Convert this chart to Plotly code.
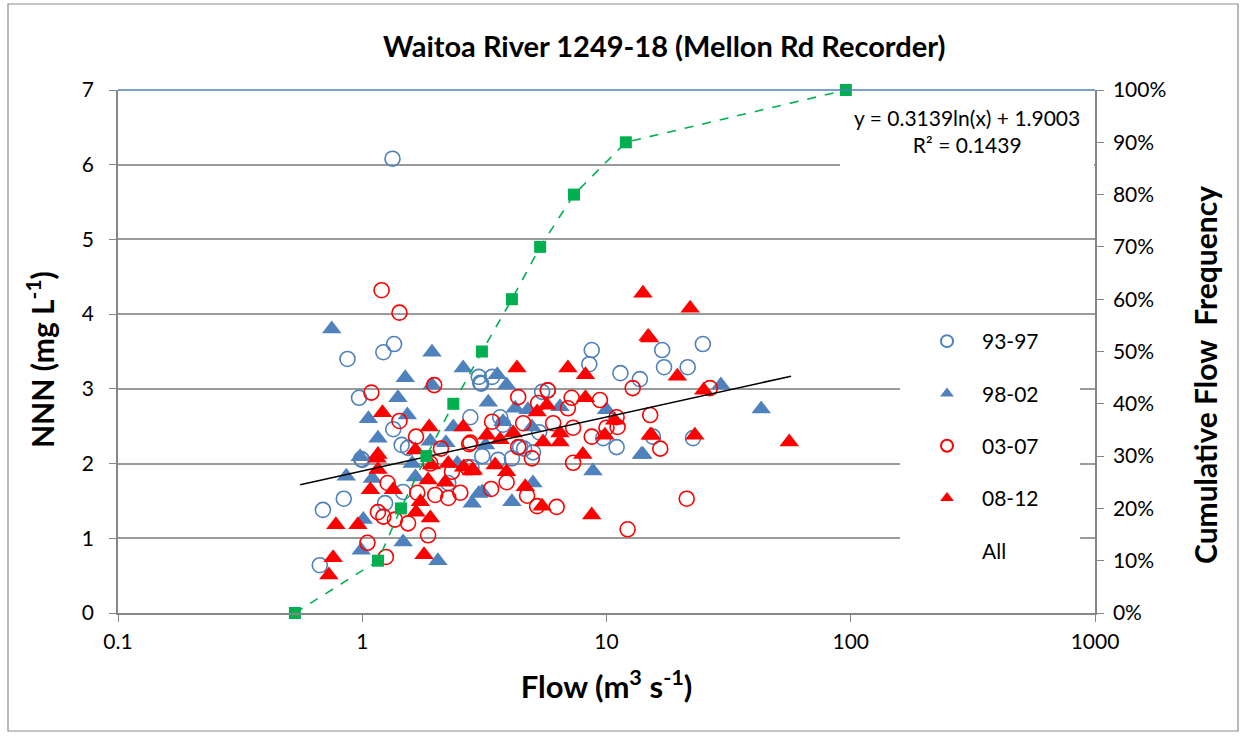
import numpy as np
import plotly.graph_objects as go

# ---------------- data ----------------
flow_9397 = [1.33, 0.67, 0.69, 0.84, 0.87, 0.97, 0.99, 1.22, 1.35, 1.34, 1.54, 1.47, 1.24, 2.25,
             2.77, 3.0, 3.04, 3.4, 3.07, 5.45, 5.75, 3.67, 3.77, 5.3, 4.43, 4.1, 11.0, 9.7, 8.7,
             8.5, 11.4, 13.7, 16.9, 24.8, 17.2, 21.5, 15.5, 22.6, 1.0, 1.45, 2.8, 3.1, 3.6, 4.6, 5.0]
nnn_9397 = [6.08, 0.64, 1.38, 1.53, 3.40, 2.88, 2.06, 3.49, 3.60, 2.46, 2.21, 1.62, 1.47, 1.74,
            2.62, 3.16, 3.08, 3.16, 3.07, 2.96, 2.98, 2.62, 2.52, 2.42, 2.22, 2.07, 2.22, 2.34, 3.52,
            3.33, 3.21, 3.13, 3.52, 3.60, 3.29, 3.29, 2.36, 2.34, 2.05, 2.25, 1.95, 2.10, 2.05, 2.20, 2.15]

flow_9802 = [0.75, 1.93, 1.50, 2.59, 1.40, 1.93, 1.53, 1.06, 1.16, 2.2, 2.36, 0.98, 0.86, 1.01,
             0.99, 1.47, 2.04, 1.65, 2.82, 3.57, 3.9, 3.28, 4.23, 4.77, 6.45, 10.0, 3.77, 4.95,
             13.9, 8.8, 4.1, 5.0, 3.1, 29.4, 43.0, 14.1, 1.1, 2.45, 3.2, 1.6, 1.9, 3.0]
nnn_9802 = [3.80, 3.49, 3.15, 3.28, 2.88, 3.05, 2.65, 2.60, 2.34, 2.28, 2.49, 2.09, 1.83, 1.25,
            0.84, 0.95, 0.70, 1.82, 1.47, 3.19, 3.05, 2.82, 2.74, 2.72, 2.76, 2.72, 2.56, 2.49,
            2.12, 1.90, 1.49, 1.74, 1.62, 3.05, 2.73, 2.12, 1.80, 2.00, 2.25, 2.00, 2.30, 1.60]

flow_0307 = [1.2, 1.42, 1.09, 1.97, 1.42, 1.66, 2.74, 1.27, 1.16, 1.22, 1.36, 1.54, 1.05, 1.25,
             1.86, 1.68, 1.99, 2.25, 2.52, 2.33, 2.69, 4.35, 5.75, 7.2, 9.4, 12.8, 6.95, 3.4,
             4.56, 5.25, 6.05, 7.3, 8.7, 10.0, 11.1, 11.0, 15.1, 2.77, 4.35, 4.95, 7.3, 3.9,
             3.37, 4.73, 5.2, 6.25, 12.2, 26.5, 16.6, 21.3, 1.9, 2.1]
nnn_0307 = [4.32, 4.02, 2.95, 3.05, 2.57, 2.36, 2.26, 1.74, 1.35, 1.29, 1.25, 1.20, 0.94, 0.75,
            1.04, 1.61, 1.58, 1.54, 1.61, 1.89, 1.95, 2.89, 2.98, 2.88, 2.85, 3.01, 2.74, 2.56,
            2.54, 2.81, 2.54, 2.48, 2.36, 2.48, 2.49, 2.62, 2.65, 2.28, 2.22, 2.07, 2.01, 1.75,
            1.66, 1.57, 1.43, 1.42, 1.12, 3.01, 2.20, 1.53, 2.00, 2.20]

flow_0812 = [1.21, 1.88, 2.59, 1.65, 1.16, 1.15, 1.16, 1.08, 0.78, 0.96, 0.76, 0.73, 1.34, 1.73,
             1.66, 1.9, 1.79, 1.86, 2.19, 2.25, 2.6, 2.8, 4.3, 6.95, 8.2, 8.2, 5.7, 5.2, 3.24,
             3.67, 4.15, 5.5, 6.45, 6.45, 9.85, 10.8, 15.1, 14.8, 8.0, 2.85, 3.5, 3.9, 4.65,
             5.45, 8.7, 14.1, 22.0, 15.0, 19.5, 25.0, 15.3, 23.0, 56.0, 1.92]
nnn_0812 = [2.68, 2.49, 2.49, 2.18, 2.12, 2.07, 1.92, 1.65, 1.18, 1.18, 0.74, 0.51, 1.65, 1.49,
            1.35, 1.27, 0.78, 1.78, 1.75, 2.00, 1.95, 1.90, 3.28, 3.28, 3.19, 2.88, 2.78, 2.69, 2.38,
            2.32, 2.41, 2.29, 2.41, 2.29, 2.38, 2.58, 2.38, 3.70, 2.12, 1.91, 1.98, 1.89, 1.69,
            1.43, 1.31, 4.28, 4.08, 3.68, 3.17, 2.98, 2.38, 2.38, 2.29, 1.98]

cum_flow = [0.53, 1.16, 1.44, 1.83, 2.36, 3.09, 4.1, 5.35, 7.36, 12.0, 95.5]
cum_freq = [0.0, 0.1, 0.2, 0.3, 0.4, 0.5, 0.6, 0.7, 0.8, 0.9, 1.0]

trend_a, trend_b = 0.3139, 1.9003
trend_xmin, trend_xmax = 0.557, 57.0
x_ticks = [0.1, 1, 10, 100, 1000]
x_ticktext = ["0.1", "1", "10", "100", "1000"]

# ---------------- layout helpers ----------------
W, H = 1249, 736
L, R, T, B = 118, 1095, 90, 613
def px(xp): return (xp - L) / (R - L)
def py(yp): return (B - yp) / (B - T)

FONT = "Lato, 'Open Sans', sans-serif"
BLUE, RED, GREEN = "#4f81bd", "#ff0000", "#00b050"

fig = go.Figure()

fig.add_trace(go.Scatter(x=flow_9397, y=nnn_9397, mode="markers", name="93-97", legendgroup="a",
                         marker=dict(symbol="circle-open", size=15, color=BLUE, line=dict(width=1.6))))
fig.add_trace(go.Scatter(x=flow_9802, y=nnn_9802, mode="markers", name="98-02", legendgroup="b",
                         marker=dict(symbol="triangle-up", size=17, color=BLUE)))
fig.add_trace(go.Scatter(x=flow_0307, y=nnn_0307, mode="markers", name="03-07", legendgroup="c",
                         marker=dict(symbol="circle-open", size=15, color=RED, line=dict(width=1.6))))
fig.add_trace(go.Scatter(x=flow_0812, y=nnn_0812, mode="markers", name="08-12", legendgroup="d",
                         marker=dict(symbol="triangle-up", size=17, color=RED)))
fig.add_trace(go.Scatter(x=[0.001], y=[-1], mode="markers", name="All", legendgroup="e",
                         marker=dict(size=1, color="rgba(0,0,0,0)", line=dict(width=0))))

xt = np.geomspace(trend_xmin, trend_xmax, 60)
fig.add_trace(go.Scatter(x=xt, y=trend_a * np.log(xt) + trend_b, mode="lines", showlegend=False,
                         line=dict(color="black", width=1.5)))

fig.add_trace(go.Scatter(x=cum_flow, y=cum_freq, yaxis="y2", mode="lines+markers", showlegend=False,
                         cliponaxis=False,
                         line=dict(color=GREEN, width=1.6, dash="dash"),
                         marker=dict(symbol="square", size=12, color=GREEN)))

axis_col = "#868686"
fig.update_layout(
    width=W, height=H,
    margin=dict(l=L, r=W - R, t=T, b=H - B),
    paper_bgcolor="white", plot_bgcolor="white",
    font=dict(family=FONT, size=21, color="black"),
    showlegend=True,
    legend=dict(x=px(912), y=py(321), xanchor="left", yanchor="top", bgcolor="rgba(0,0,0,0)",
                font=dict(size=21), tracegroupgap=22, itemsizing="constant", itemwidth=60),
    xaxis=dict(type="log", range=[-1, 3], tickvals=x_ticks, ticktext=x_ticktext,
               showgrid=False, showline=True, linecolor=axis_col, linewidth=1.5,
               ticks="outside", tickcolor=axis_col, ticklen=7, zeroline=False, ticklabelstandoff=2,
               title=dict(text="<b>Flow (m<sup>3</sup> s<sup>-1</sup>)</b>", font=dict(size=31), standoff=24)),
    yaxis=dict(range=[0, 7], dtick=1, showgrid=True, gridcolor="#9a9a9a", gridwidth=1.5,
               showline=True, linecolor=axis_col, linewidth=1.5, ticks="outside",
               tickcolor=axis_col, ticklen=7, zeroline=False, ticklabelstandoff=11),
    yaxis2=dict(range=[0, 1], dtick=0.1, tickformat=".0%", overlaying="y", side="right",
                showgrid=False, showline=True, linecolor=axis_col, linewidth=1.5,
                ticks="outside", tickcolor=axis_col, ticklen=7, zeroline=False, ticklabelstandoff=5),
)

# white boxes (equation label and legend area) covering gridlines
fig.add_shape(type="rect", xref="paper", yref="paper", x0=px(840), x1=px(1094), y0=py(172), y1=py(96),
              fillcolor="white", line=dict(width=0), layer="above")
fig.add_shape(type="rect", xref="paper", yref="paper", x0=px(900), x1=px(1080), y0=py(611), y1=py(322),
              fillcolor="white", line=dict(width=0), layer="above")
# blue top border of plot area
fig.add_shape(type="line", xref="paper", yref="paper", x0=0, x1=1, y0=1, y1=1,
              line=dict(color=BLUE, width=1.5))
# outer chart frame
fig.add_shape(type="rect", xref="paper", yref="paper", x0=px(8), x1=px(1238), y0=py(731), y1=py(4),
              line=dict(color="#8c8c8c", width=1.2), fillcolor="rgba(0,0,0,0)")

fig.add_annotation(text="<b>Waitoa River 1249-18 (Mellon Rd Recorder)</b>", xref="paper", yref="paper",
                   x=px(664), y=py(45), xanchor="center", yanchor="middle", showarrow=False,
                   font=dict(size=29))
fig.add_annotation(text="y = 0.3139ln(x) + 1.9003<br>R² = 0.1439", xref="paper", yref="paper",
                   x=px(967), y=py(131), xanchor="center", yanchor="middle", showarrow=False,
                   align="center", font=dict(size=21))
# vertical axis titles
fig.add_annotation(text="<b>NNN (mg L<sup>-1</sup>)</b>", xref="paper", yref="paper",
                   x=px(40), y=py(360), xanchor="center", yanchor="middle", showarrow=False,
                   textangle=-90, font=dict(size=30))
fig.add_annotation(text="<b>Cumulative Flow  Frequency</b>", xref="paper", yref="paper",
                   x=px(1205), y=py(375), xanchor="center", yanchor="middle", showarrow=False,
                   textangle=-90, font=dict(size=30))

fig.write_html("out.html")
